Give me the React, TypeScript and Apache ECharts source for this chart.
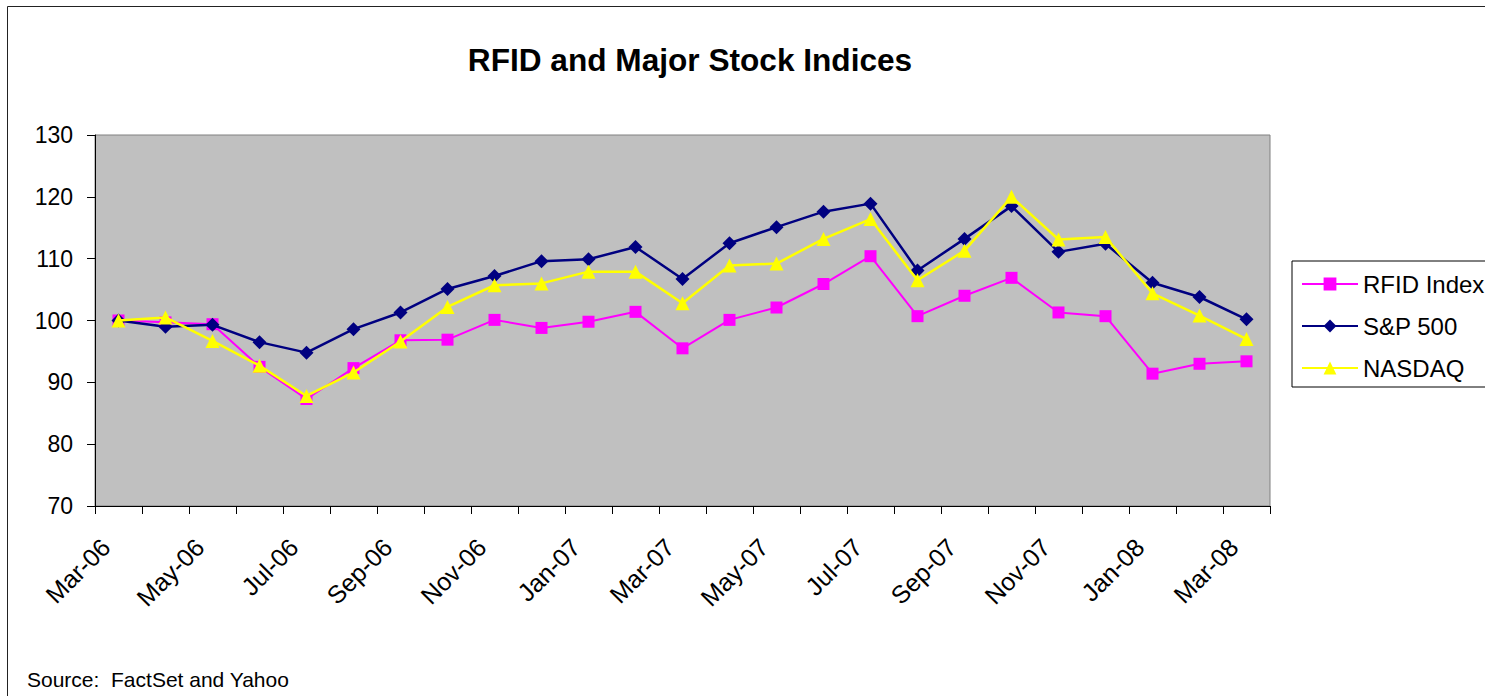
import React, { useEffect, useRef } from "react";
import * as echarts from "echarts";

const categories = [
  "Mar-06", "Apr-06", "May-06", "Jun-06", "Jul-06", "Aug-06", "Sep-06", "Oct-06", "Nov-06",
  "Dec-06", "Jan-07", "Feb-07", "Mar-07", "Apr-07", "May-07", "Jun-07", "Jul-07", "Aug-07",
  "Sep-07", "Oct-07", "Nov-07", "Dec-07", "Jan-08", "Feb-08", "Mar-08",
];
const rfidIndex = [100, 99.7, 99.4, 92.5, 87.3, 92.3, 96.8, 96.9, 100.1, 98.8, 99.8, 101.4, 95.5, 100.1, 102.1, 105.9, 110.4, 100.7, 104, 106.9, 101.3, 100.7, 91.4, 93, 93.4];
const sp500 = [100, 99.0, 99.3, 96.5, 94.8, 98.6, 101.3, 105.1, 107.2, 109.6, 109.9, 111.9, 106.7, 112.5, 115.1, 117.6, 118.9, 108.1, 113.2, 118.5, 111.1, 112.4, 106.1, 103.8, 100.2];
const nasdaq = [100, 100.5, 96.7, 92.7, 87.8, 91.6, 96.6, 102.2, 105.7, 106, 107.9, 107.9, 102.8, 108.9, 109.2, 113.2, 116.4, 106.5, 111.3, 120, 113.1, 113.5, 104.4, 100.8, 97];
const seriesNames = ["RFID Index", "S&P 500", "NASDAQ"];
const titleText = "RFID and Major Stock Indices";
const sourceText = "Source:  FactSet and Yahoo";

const FONT = "Arial, 'Liberation Sans', sans-serif";

export default function App() {
  const ref = useRef<HTMLDivElement>(null);
  useEffect(() => {
    if (!ref.current) return;
    const chart = echarts.init(ref.current, undefined, { renderer: "svg" });
    chart.setOption({
      animation: false,
      backgroundColor: "#ffffff",
      textStyle: { fontFamily: FONT },
      graphic: [
        {
          type: "rect",
          silent: true,
          shape: { x: 7.5, y: 6.5, width: 1600, height: 800 },
          style: { fill: "none", stroke: "#222222", lineWidth: 1 },
        },
        {
          type: "text",
          x: 690,
          y: 61,
          scaleX: 1.02,
          style: {
            text: titleText,
            font: `bold 31px ${FONT}`,
            fill: "#000000",
            textAlign: "center",
            textVerticalAlign: "middle",
          },
        },
        {
          type: "text",
          x: 27,
          y: 679,
          style: {
            text: sourceText,
            font: `21px ${FONT}`,
            fill: "#000000",
            textAlign: "left",
            textVerticalAlign: "middle",
          },
        },
      ],
      legend: {
        orient: "vertical",
        left: 1292,
        top: 261,
        padding: [11, 40, 7, 9],
        itemWidth: 56,
        itemHeight: 16,
        itemGap: 18,
        borderColor: "#000000",
        borderWidth: 1,
        backgroundColor: "#ffffff",
        textStyle: { fontSize: 24, color: "#000000", fontFamily: FONT },
        data: seriesNames,
      },
      grid: {
        left: 95,
        top: 135,
        width: 1175,
        height: 371,
        show: true,
        backgroundColor: "#C0C0C0",
        borderColor: "#808080",
        borderWidth: 1,
      },
      xAxis: {
        type: "category",
        data: categories,
        boundaryGap: true,
        axisLine: { show: true, lineStyle: { color: "#000000", width: 1 } },
        axisTick: { show: true, interval: 0, length: 8, lineStyle: { color: "#000000" } },
        axisLabel: {
          interval: 1,
          rotate: 45,
          fontSize: 25,
          color: "#000000",
          fontFamily: FONT,
          margin: 24,
          padding: [0, 18, 0, 0],
        },
        splitLine: { show: false },
      },
      yAxis: {
        type: "value",
        min: 70,
        max: 130,
        interval: 10,
        axisLine: { show: true, lineStyle: { color: "#000000", width: 1 } },
        axisTick: { show: true, length: 8, lineStyle: { color: "#000000" } },
        axisLabel: { fontSize: 23, color: "#000000", fontFamily: FONT, margin: 22 },
        splitLine: { show: false },
      },
      series: [
        {
          name: seriesNames[0],
          type: "line",
          data: rfidIndex,
          symbol: "rect",
          symbolSize: 12,
          lineStyle: { color: "#FF00FF", width: 2 },
          itemStyle: { color: "#FF00FF" },
          z: 2,
        },
        {
          name: seriesNames[1],
          type: "line",
          data: sp500,
          symbol: "diamond",
          symbolSize: 14,
          lineStyle: { color: "#000080", width: 2.5 },
          itemStyle: { color: "#000080" },
          z: 3,
        },
        {
          name: seriesNames[2],
          type: "line",
          data: nasdaq,
          symbol: "triangle",
          symbolSize: 14,
          lineStyle: { color: "#FFFF00", width: 2.5 },
          itemStyle: { color: "#FFFF00" },
          z: 4,
        },
      ],
    });
    return () => chart.dispose();
  }, []);
  return (
    <div
      ref={ref}
      style={{ position: "absolute", left: 0, top: 0, width: 1485, height: 696, background: "#fff" }}
    />
  );
}
